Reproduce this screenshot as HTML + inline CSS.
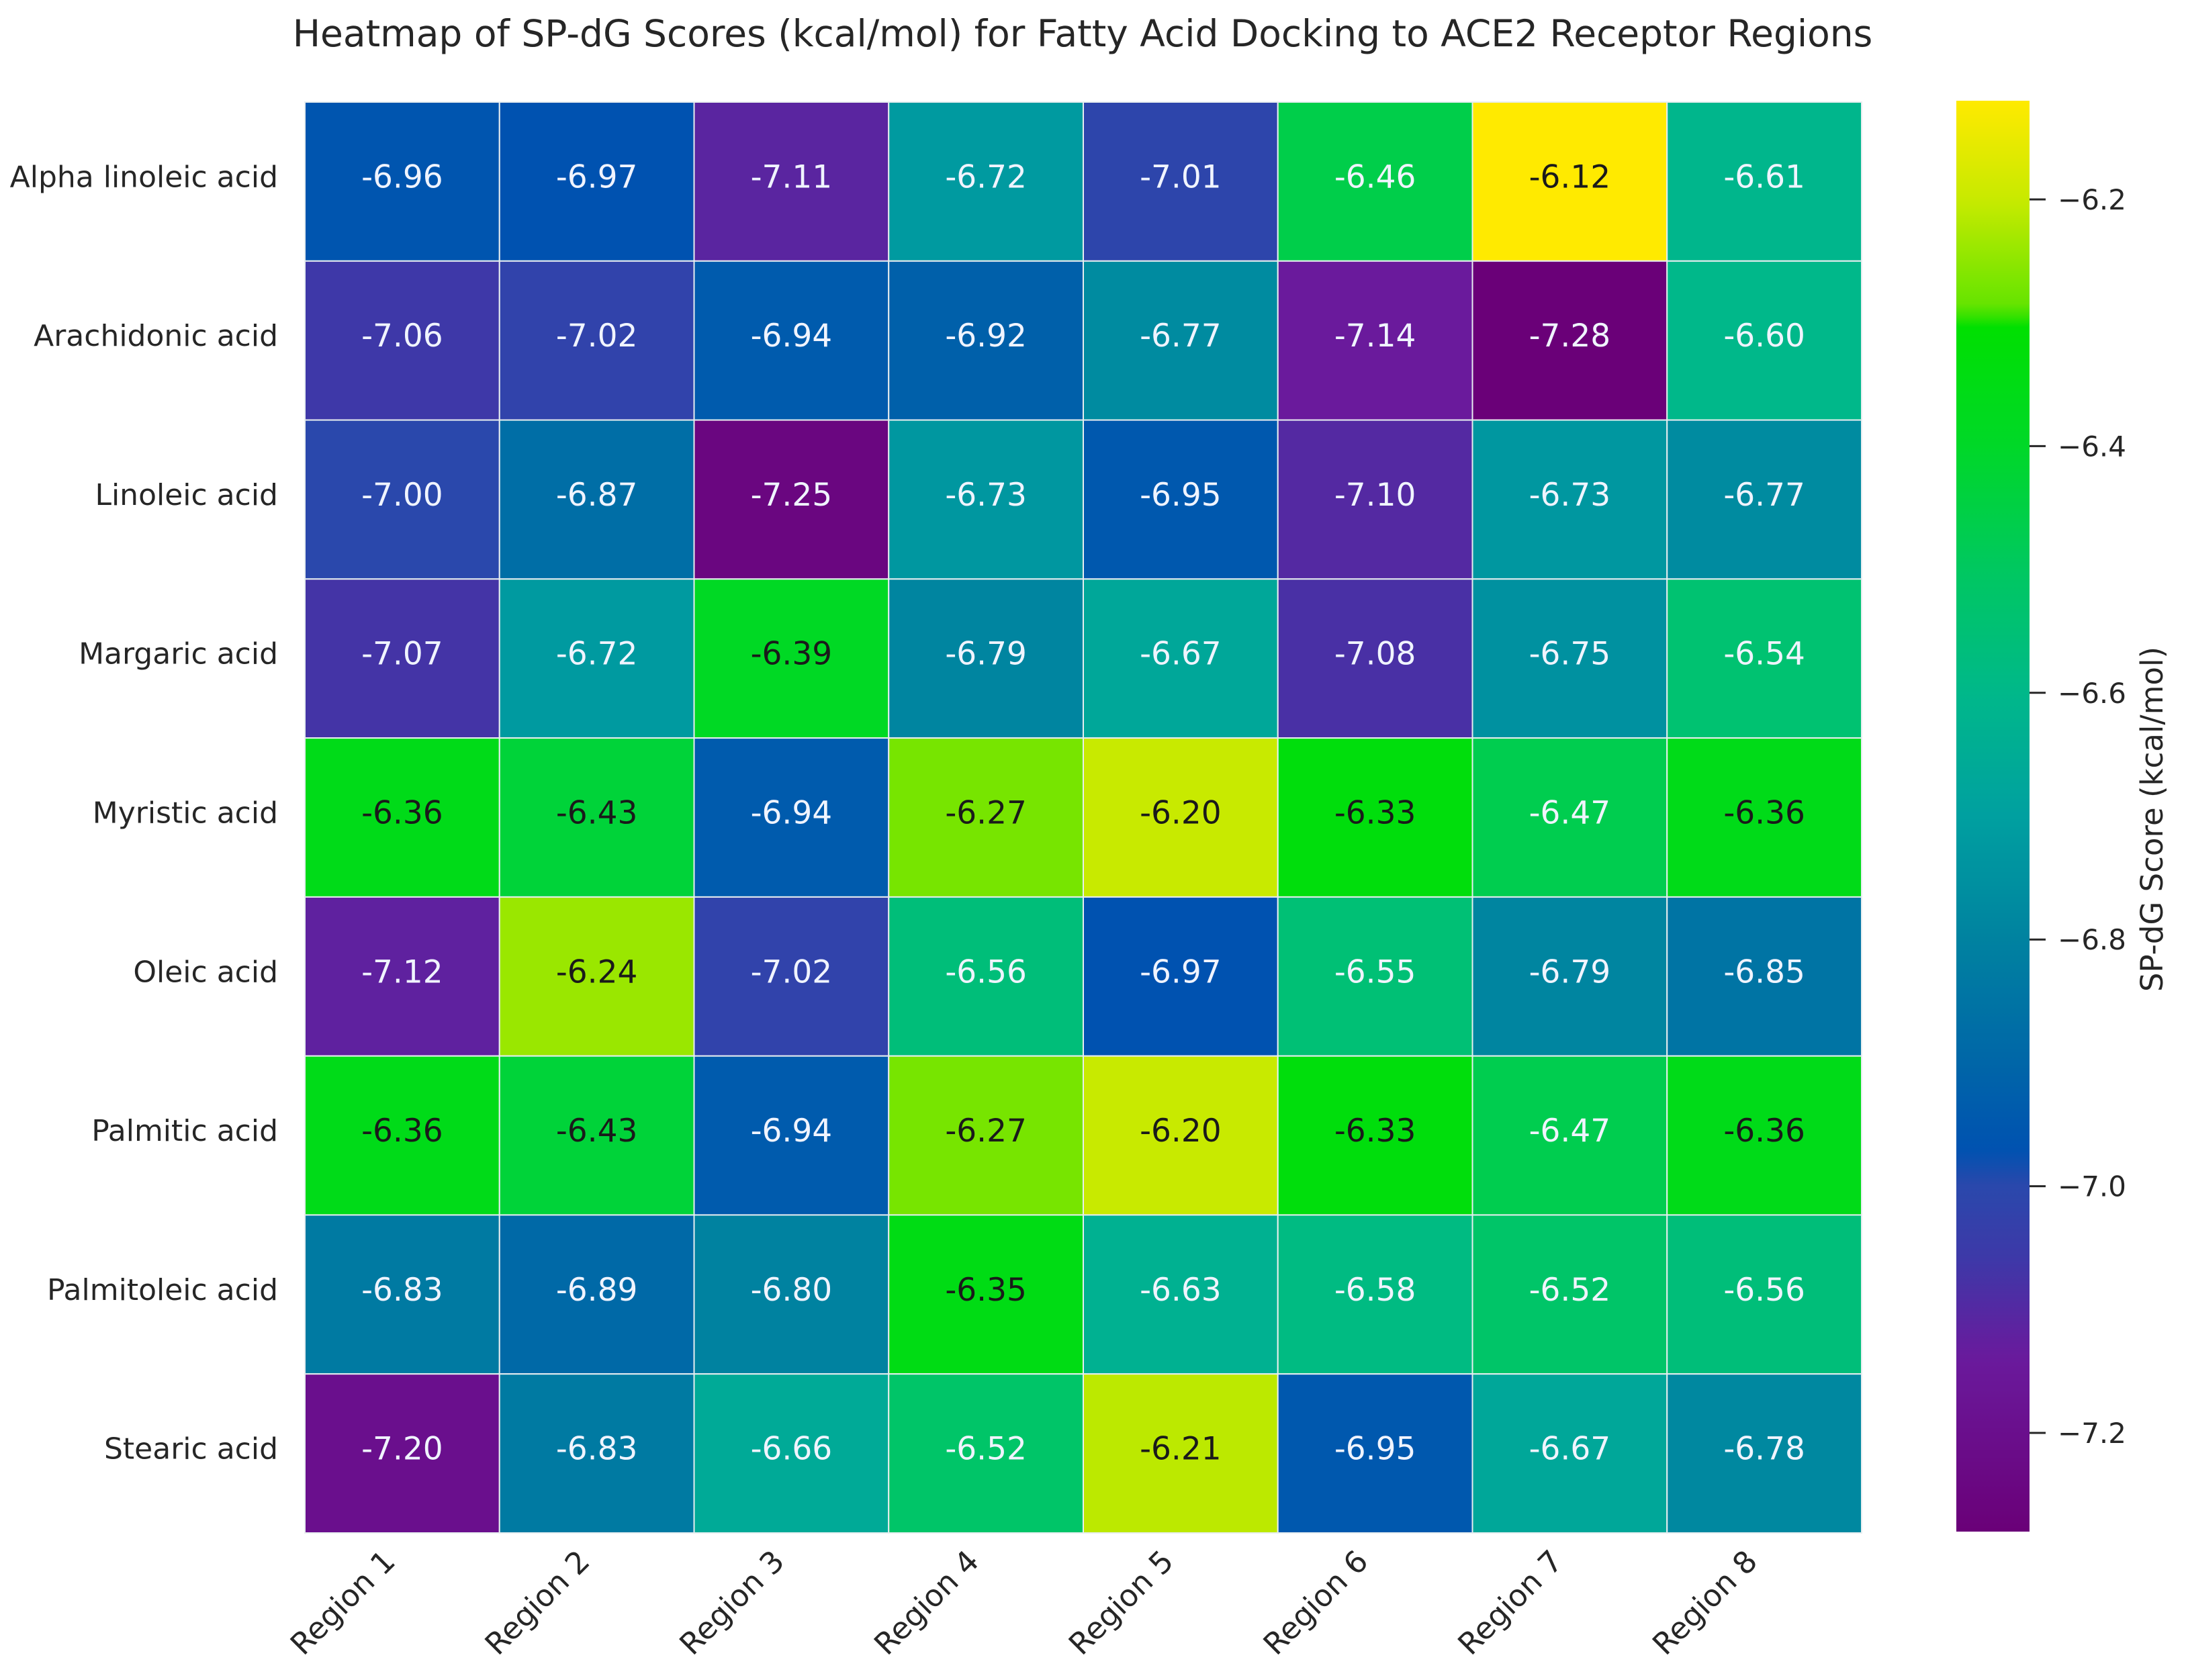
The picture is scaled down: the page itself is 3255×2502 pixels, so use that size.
<!DOCTYPE html>
<html><head><meta charset="utf-8"><style>
html,body{margin:0;padding:0;background:#fff;}
svg{display:block;font-family:"DejaVu Sans","Liberation Sans",sans-serif;}
</style></head><body>
<svg id="chart" width="3255" height="2502" viewBox="0 0 3255 2502" xmlns="http://www.w3.org/2000/svg">
<rect width="3255" height="2502" fill="#fff"/>
<text x="1612" y="69" font-size="55" text-anchor="middle" fill="#262626">Heatmap of SP-dG Scores (kcal/mol) for Fatty Acid Docking to ACE2 Receptor Regions</text>
<defs><linearGradient id="cbgrad" x1="0" y1="1" x2="0" y2="0"></linearGradient></defs>
<g id="cells"></g><g id="ylabels"></g><g id="xlabels"></g><g id="cbar"></g>
</svg>
<script>
const rows = ["Alpha linoleic acid","Arachidonic acid","Linoleic acid","Margaric acid","Myristic acid","Oleic acid","Palmitic acid","Palmitoleic acid","Stearic acid"];
const cols = ["Region 1","Region 2","Region 3","Region 4","Region 5","Region 6","Region 7","Region 8"];
const values = [
[-6.96,-6.97,-7.11,-6.72,-7.01,-6.46,-6.12,-6.61],
[-7.06,-7.02,-6.94,-6.92,-6.77,-7.14,-7.28,-6.60],
[-7.00,-6.87,-7.25,-6.73,-6.95,-7.10,-6.73,-6.77],
[-7.07,-6.72,-6.39,-6.79,-6.67,-7.08,-6.75,-6.54],
[-6.36,-6.43,-6.94,-6.27,-6.20,-6.33,-6.47,-6.36],
[-7.12,-6.24,-7.02,-6.56,-6.97,-6.55,-6.79,-6.85],
[-6.36,-6.43,-6.94,-6.27,-6.20,-6.33,-6.47,-6.36],
[-6.83,-6.89,-6.80,-6.35,-6.63,-6.58,-6.52,-6.56],
[-7.20,-6.83,-6.66,-6.52,-6.21,-6.95,-6.67,-6.78]];
const cbTicks = [-6.2,-6.4,-6.6,-6.8,-7.0,-7.2];
const vmin = -7.28, vmax = -6.12;

const NS="http://www.w3.org/2000/svg";
const L=454, R=2772, T=152, B=2283;
const cw=(R-L)/cols.length, rh=(B-T)/rows.length;
const stops=[[-7.28,"#6a0078"],[-7.14,"#6a1a9c"],[-7.06,"#3e38a8"],[-7.00,"#2a48ac"],[-6.97,"#0052b0"],[-6.90,"#0066a8"],[-6.80,"#0082a0"],[-6.70,"#00a0a0"],[-6.60,"#00b88a"],[-6.50,"#00c860"],[-6.40,"#00d828"],[-6.30,"#00e000"],[-6.29,"#60e400"],[-6.20,"#c8ea00"],[-6.12,"#ffea00"]];
function hex(h){return [1,3,5].map(i=>parseInt(h.substr(i,2),16));}
function color(v){
  if(v<=stops[0][0])return stops[0][1];
  for(let i=1;i<stops.length;i++){if(v<=stops[i][0]){const a=stops[i-1],b=stops[i];const t=(v-a[0])/(b[0]-a[0]);const ca=hex(a[1]),cb=hex(b[1]);return "rgb("+ca.map((c,k)=>Math.round(c+(cb[k]-c)*t)).join(",")+")";}}
  return stops[stops.length-1][1];
}
function mk(tag,attrs,parent){const e=document.createElementNS(NS,tag);for(const k in attrs)e.setAttribute(k,attrs[k]);parent.appendChild(e);return e;}
const gc=document.getElementById("cells"),gy=document.getElementById("ylabels"),gx=document.getElementById("xlabels"),gb=document.getElementById("cbar");
const xPos=j=>L+j*cw, yPos=i=>T+i*rh;
const cbTop=150, cbBot=2281, cbL=2913, cbR=3022;
const cbY=v=>cbTop+(vmax-v)/(vmax-vmin)*(cbBot-cbTop);
values.forEach((row,i)=>row.forEach((v,j)=>{
  const r=mk("rect",{x:xPos(j),y:yPos(i),width:cw,height:rh,fill:color(v),stroke:"#e8eef0","stroke-width":2},gc);
  
  
  const t=mk("text",{x:xPos(j)+cw/2,y:yPos(i)+rh/2+9,"font-size":47,"text-anchor":"middle",fill:(v>-6.45?"#1a1a1a":"#f0f4ff")},gc);
  t.textContent=v.toFixed(2);
  
  
}));
rows.forEach((n,i)=>{
  const t=mk("text",{x:414,y:yPos(i)+rh/2+8,"font-size":44,"text-anchor":"end",fill:"#262626"},gy);
  t.textContent=n;
  
  
});
cols.forEach((n,j)=>{
  const cx=xPos(j)+cw/2-8, cy=2328;
  const t=mk("text",{x:cx,y:cy,"font-size":45,"text-anchor":"end",fill:"#262626",transform:"rotate(-45 "+cx+" "+cy+")"},gx);
  t.textContent=n;
  
  
});
const grad=document.getElementById("cbgrad");
const nS=120;
for(let k=0;k<=nS;k++){const v=vmin+(vmax-vmin)*k/nS;mk("stop",{offset:(k/nS),"stop-color":color(v)},grad);}
const cb=mk("rect",{x:cbL,y:cbTop,width:cbR-cbL,height:cbBot-cbTop,fill:"url(#cbgrad)"},gb);


cbTicks.forEach(v=>{
  const y=cbY(v);
  const l=mk("line",{x1:cbR,x2:cbR+24,y1:y,y2:y,stroke:"#262626","stroke-width":3},gb);
  
  
  const t=mk("text",{x:cbR+42,y:y+15,"font-size":42,fill:"#262626"},gb);
  t.textContent="\u2212"+Math.abs(v).toFixed(1);
  
  
});
const ct=mk("text",{x:3220,y:1220,"font-size":45,"text-anchor":"middle",fill:"#262626",transform:"rotate(-90 3220 1220)"},gb);
ct.textContent="SP-dG Score (kcal/mol)";


</script>
</body></html>
